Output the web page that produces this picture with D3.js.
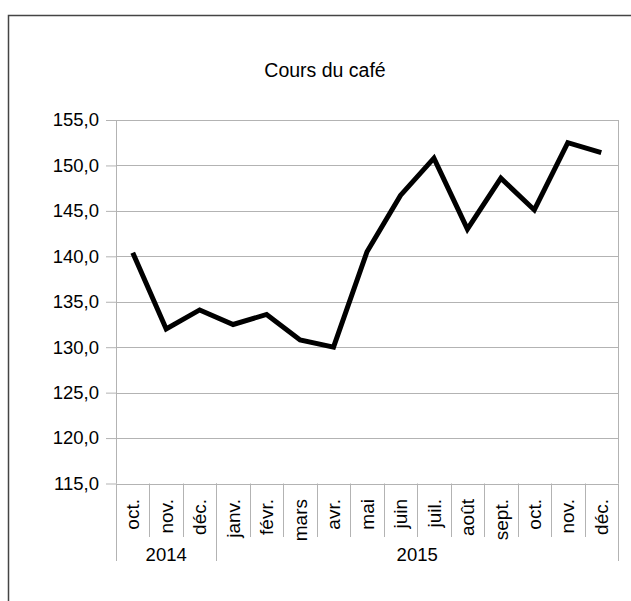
<!DOCTYPE html>
<html>
<head>
<meta charset="utf-8">
<script src="https://cdnjs.cloudflare.com/ajax/libs/d3/7.8.5/d3.min.js"></script>
<style>
  body { margin: 0; background: #fff; }
  text { font-family: "Liberation Sans", Arial, sans-serif; fill: #000; }
</style>
</head>
<body>
<script>
// chart data
var months = ["oct.", "nov.", "déc.", "janv.", "févr.", "mars", "avr.", "mai", "juin", "juil.", "août", "sept.", "oct.", "nov.", "déc."];
var years = [{label: "2014", count: 3}, {label: "2015", count: 12}];
var prices = [140.4, 132.0, 134.1, 132.5, 133.6, 130.8, 130.0, 140.5, 146.7, 150.8, 143.0, 148.6, 145.1, 152.5, 151.4];
var yTicks = [115, 120, 125, 130, 135, 140, 145, 150, 155];
var title = "Cours du café";

var W = 631, H = 601;
var plotLeft = 116, plotRight = 618, plotTop = 120, plotBottom = 483.5;
var gridColor = "#b3b3b3";

var svg = d3.select("body").append("svg").attr("width", W).attr("height", H);

// outer frame (runs past the bottom and right edges)
svg.append("rect")
  .attr("x", 8.5).attr("y", 15.5).attr("width", 700).attr("height", 700)
  .attr("fill", "none").attr("stroke", "#444").attr("stroke-width", 1.5);

svg.append("text")
  .attr("x", 325).attr("y", 77)
  .attr("text-anchor", "middle")
  .attr("font-size", 19.5)
  .text(title);

var x = d3.scaleBand().domain(d3.range(months.length)).range([plotLeft, plotRight]);
var y = d3.scaleLinear().domain([115, 155]).range([plotBottom, plotTop]);

// y ticks + labels
var yAxis = svg.append("g").attr("transform", "translate(" + plotLeft + ",0)")
  .call(d3.axisLeft(y).tickValues(yTicks).tickSize(10).tickPadding(7)
    .tickFormat(function(d){ return d3.format(".1f")(d).replace(".", ","); }));
yAxis.select(".domain").remove();
yAxis.selectAll("line").attr("stroke", gridColor);
yAxis.selectAll("text").attr("font-size", 18.5).style("font-family", "Liberation Sans, Arial, sans-serif").attr("fill", "#000");

// horizontal gridlines
svg.append("g").selectAll("line")
  .data(yTicks)
  .enter().append("line")
  .attr("x1", plotLeft).attr("x2", plotRight)
  .attr("y1", function(d){ return Math.round(y(d)) + 0.5; })
  .attr("y2", function(d){ return Math.round(y(d)) + 0.5; })
  .attr("stroke", gridColor);

// vertical plot edges
svg.append("line").attr("x1", plotLeft + 0.5).attr("x2", plotLeft + 0.5).attr("y1", plotTop).attr("y2", plotBottom)
  .attr("stroke", gridColor);
svg.append("line").attr("x1", plotRight + 0.5).attr("x2", plotRight + 0.5).attr("y1", plotTop).attr("y2", plotBottom)
  .attr("stroke", gridColor);

// month separators
svg.append("g").selectAll("line")
  .data(d3.range(1, months.length))
  .enter().append("line")
  .attr("x1", function(i){ return Math.round(x(i)) + 0.5; })
  .attr("x2", function(i){ return Math.round(x(i)) + 0.5; })
  .attr("y1", plotBottom).attr("y2", 537)
  .attr("stroke", gridColor);

// year separators
var bounds = [0];
years.forEach(function(yr){ bounds.push(bounds[bounds.length - 1] + yr.count); });
function edgeX(i){ return i < months.length ? x(i) : plotRight; }

svg.append("g").selectAll("line")
  .data(bounds)
  .enter().append("line")
  .attr("x1", function(i){ return Math.round(edgeX(i)) + 0.5; })
  .attr("x2", function(i){ return Math.round(edgeX(i)) + 0.5; })
  .attr("y1", plotBottom).attr("y2", 561)
  .attr("stroke", gridColor);

// month labels
svg.append("g").selectAll("text")
  .data(months)
  .enter().append("text")
  .attr("transform", function(d, i){ return "translate(" + (x(i) + x.bandwidth() / 2) + ",499) rotate(-90)"; })
  .attr("text-anchor", "end")
  .attr("dy", "0.35em")
  .attr("font-size", 19)
  .text(function(d){ return d; });

// year labels
svg.append("g").selectAll("text")
  .data(years)
  .enter().append("text")
  .attr("x", function(d, i){ return (edgeX(bounds[i]) + edgeX(bounds[i + 1])) / 2; })
  .attr("y", 561)
  .attr("text-anchor", "middle")
  .attr("font-size", 18.5)
  .text(function(d){ return d.label; });

// price line
var line = d3.line()
  .x(function(d, i){ return x(i) + x.bandwidth() / 2; })
  .y(function(d){ return y(d); });

svg.append("path")
  .datum(prices)
  .attr("d", line)
  .attr("fill", "none")
  .attr("stroke", "#000")
  .attr("stroke-width", 5)
  .attr("stroke-linejoin", "miter");
</script>
</body>
</html>
